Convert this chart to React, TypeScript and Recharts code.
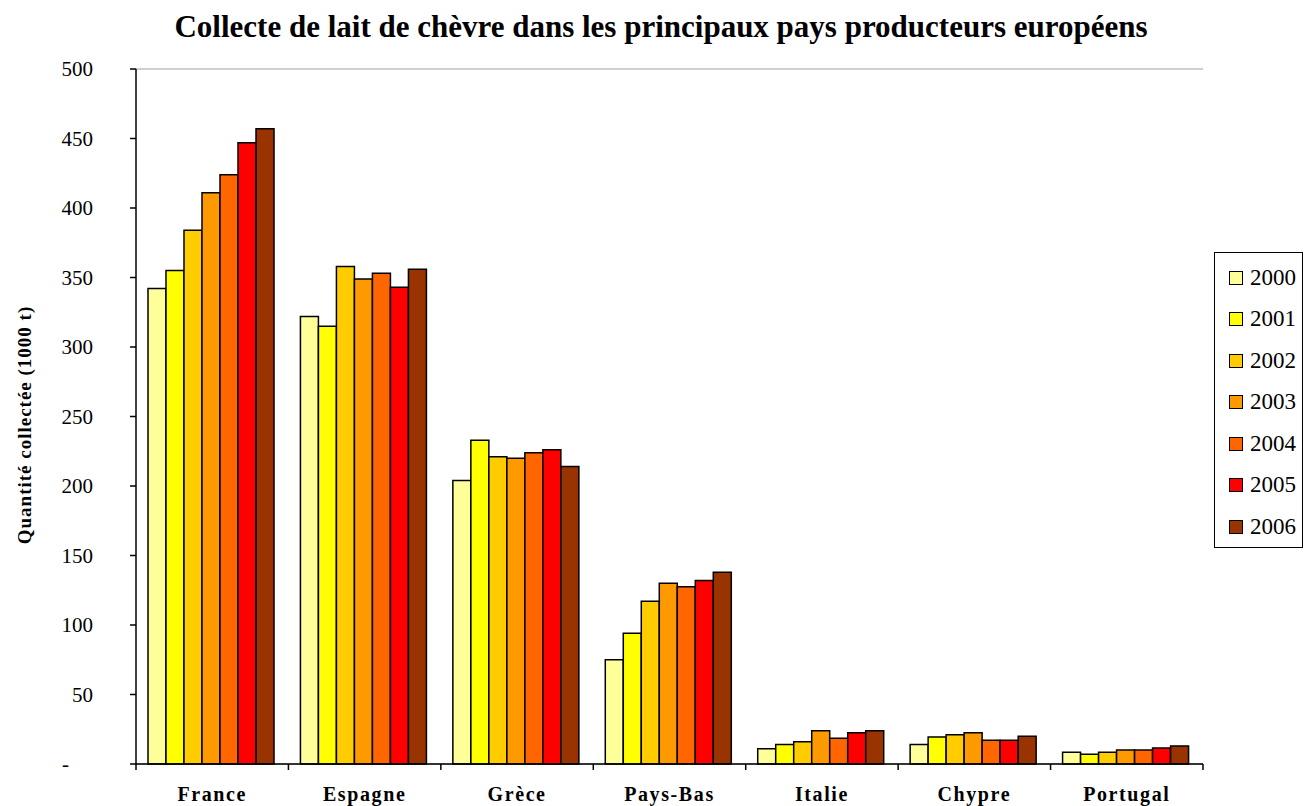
import React from "react";
import { BarChart, Bar, XAxis, YAxis, CartesianGrid } from "recharts";

const countries = ["France", "Espagne", "Grèce", "Pays-Bas", "Italie", "Chypre", "Portugal"];
const years = ["2000", "2001", "2002", "2003", "2004", "2005", "2006"];
const colors = ["#FFFF99", "#FFFF00", "#FFCC00", "#FF9900", "#FF6600", "#FF0000", "#993300"];

// one array per year, values in thousand tonnes, same order as countries
const v2000 = [342, 322, 204, 75, 11, 14, 8.5];
const v2001 = [355, 315, 233, 94, 14, 19.5, 7];
const v2002 = [384, 358, 221, 117, 16, 21, 8.5];
const v2003 = [411, 349, 220, 130, 24, 22.5, 10];
const v2004 = [424, 353, 224, 127.5, 18.5, 17, 10];
const v2005 = [447, 343, 226, 132, 22.5, 17, 11.5];
const v2006 = [457, 356, 214, 138, 24, 20, 13];
const series = [v2000, v2001, v2002, v2003, v2004, v2005, v2006];

const yTicks = [0, 50, 100, 150, 200, 250, 300, 350, 400, 450, 500];

const data = countries.map((c, i) => {
  const row: Record<string, string | number> = { country: c };
  years.forEach((y, k) => (row[y] = series[k][i]));
  return row;
});

const FONT = '"Times New Roman", "Liberation Serif", serif';
const W = 1306;
const H = 806;
const PLOT_LEFT = 136;
const PLOT_RIGHT = 1203;
const PLOT_TOP = 69;
const PLOT_BOTTOM = 764;
const BAND = (PLOT_RIGHT - PLOT_LEFT) / countries.length;

function YTick({ x, y, payload }: any) {
  const zero = payload.value === 0;
  return (
    <text
      x={zero ? x - 24 : x}
      y={y}
      dy="0.35em"
      textAnchor="end"
      style={{ fontFamily: FONT, fontSize: 21 }}
      fill="#000"
    >
      {zero ? "-" : payload.value}
    </text>
  );
}

function XTick({ x, y, payload, index }: any) {
  const left = x - BAND / 2;
  const right = x + BAND / 2;
  return (
    <g>
      <line x1={left} y1={y} x2={left} y2={y + 6} stroke="#000" strokeWidth={1.5} />
      {index === countries.length - 1 && (
        <line x1={right} y1={y} x2={right} y2={y + 6} stroke="#000" strokeWidth={1.5} />
      )}
      <text
        x={x}
        y={y + 37}
        textAnchor="middle"
        style={{ fontFamily: FONT, fontSize: 20, fontWeight: "bold", letterSpacing: 1.6 }}
        fill="#000"
      >
        {payload.value}
      </text>
    </g>
  );
}

export default function App() {
  return (
    <div style={{ position: "absolute", left: 0, top: 0, width: W, height: H, background: "#fff", fontFamily: FONT }}>
      <div
        style={{
          position: "absolute",
          left: 0,
          top: 9,
          width: 1322,
          textAlign: "center",
          fontSize: 31,
          fontWeight: "bold",
          lineHeight: "36px",
        }}
      >
        Collecte de lait de chèvre dans les principaux pays producteurs européens
      </div>
      <div
        style={{
          position: "absolute",
          left: 25,
          top: 425,
          transform: "translate(-50%, -50%) rotate(-90deg)",
          whiteSpace: "nowrap",
          fontSize: 19,
          fontWeight: "bold",
          letterSpacing: 1,
        }}
      >
        Quantité collectée (1000 t)
      </div>
      <BarChart
        width={W}
        height={H}
        data={data}
        margin={{ top: PLOT_TOP, right: W - PLOT_RIGHT, left: 0, bottom: 0 }}
        barCategoryGap={12}
        barGap={0}
      >
        <CartesianGrid horizontal vertical={false} stroke="#c0c0c0" strokeWidth={1.5} />
        <XAxis
          dataKey="country"
          height={H - PLOT_BOTTOM}
          tickLine={false}
          tickSize={0}
          tickMargin={0}
          axisLine={{ stroke: "#000", strokeWidth: 1.5 }}
          tick={<XTick />}
          interval={0}
        />
        <YAxis
          yAxisId="left"
          width={PLOT_LEFT}
          domain={[0, 500]}
          ticks={yTicks}
          interval={0}
          tickSize={6}
          tickMargin={37}
          tickLine={{ stroke: "#000", strokeWidth: 1.5 }}
          axisLine={{ stroke: "#000", strokeWidth: 1.5 }}
          tick={<YTick />}
        />
        <YAxis
          yAxisId="right"
          orientation="right"
          width={0}
          domain={[0, 500]}
          tick={false}
          tickLine={false}
          axisLine={{ stroke: "#a0a0a0", strokeWidth: 1.5 }}
        />
        {years.map((y, k) => (
          <Bar
            key={y}
            yAxisId="left"
            dataKey={y}
            fill={colors[k]}
            stroke="#000"
            strokeWidth={1.5}
            isAnimationActive={false}
          />
        ))}
      </BarChart>
      <div
        style={{
          position: "absolute",
          left: 1214,
          top: 252,
          width: 89,
          height: 296,
          border: "1px solid #000",
          background: "#fff",
          boxSizing: "border-box",
          paddingTop: 4,
        }}
      >
        {years.map((y, k) => (
          <div key={y} style={{ display: "flex", alignItems: "center", height: 41.5, paddingLeft: 14 }}>
            <span
              style={{
                width: 12,
                height: 12,
                background: colors[k],
                border: "1.5px solid #000",
                display: "inline-block",
                marginRight: 7,
              }}
            />
            <span style={{ fontSize: 23, fontFamily: FONT }}>{y}</span>
          </div>
        ))}
      </div>
    </div>
  );
}
